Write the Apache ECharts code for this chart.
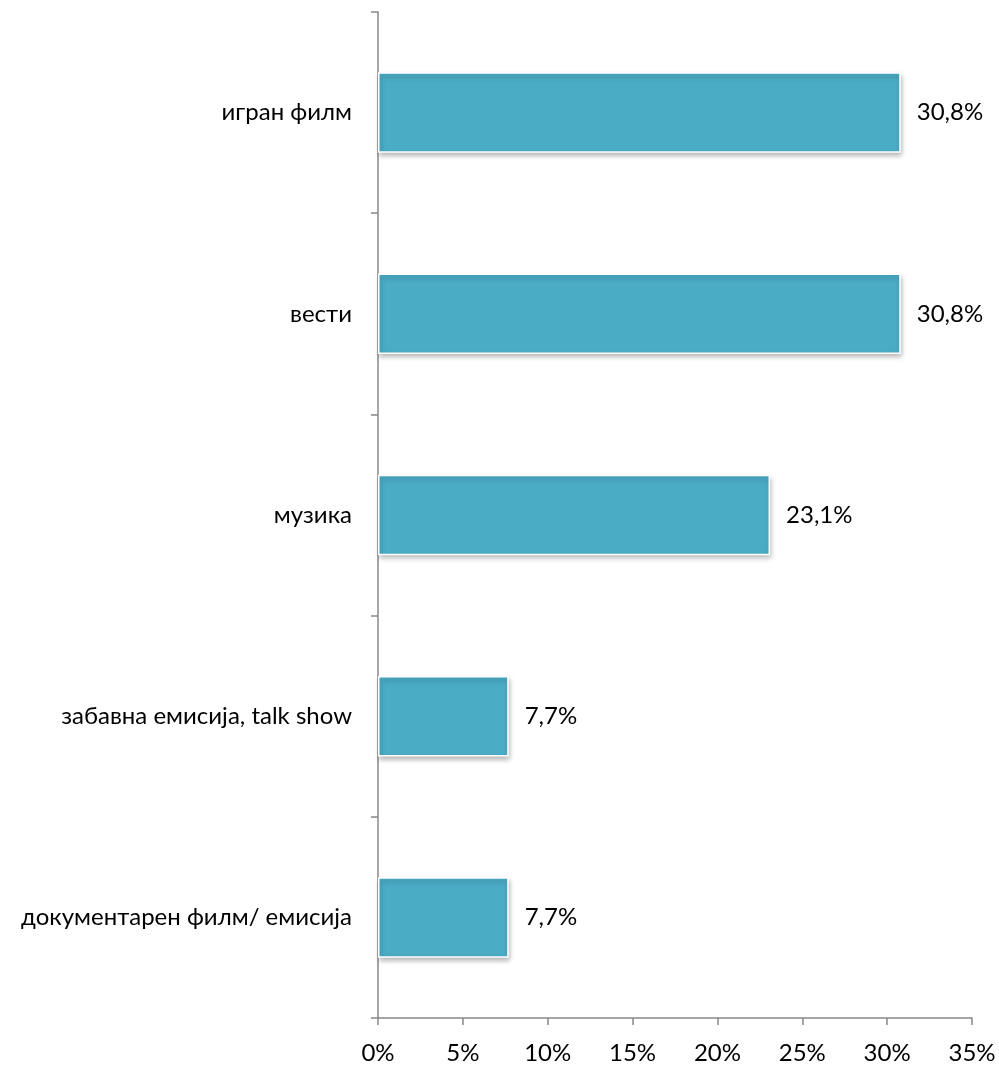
<!DOCTYPE html>
<html><head><meta charset="utf-8">
<script src="https://cdn.jsdelivr.net/npm/echarts@6/dist/echarts.min.js"></script>
<style>html,body{margin:0;padding:0;background:#fff}#c{width:999px;height:1066px}</style>
</head><body><div id="c"></div>
<script>
const categories = ["игран филм", "вести", "музика", "забавна емисија, talk show", "документарен филм/ емисија"];
const values = [30.8, 30.8, 23.1, 7.7, 7.7];
const labels = ["30,8%", "30,8%", "23,1%", "7,7%", "7,7%"];
const FONT = "Lato, 'Open Sans', sans-serif";
const chart = echarts.init(document.getElementById('c'));
chart.setOption({
  animation: false,
  grid: {left: 378, right: 27, top: 12, bottom: 48, containLabel: false},
  xAxis: {
    type: 'value', min: 0, max: 35, interval: 5,
    axisLine: {show: true, lineStyle: {color: '#888', width: 1.5}},
    axisTick: {show: true, length: 7, lineStyle: {color: '#888', width: 1.5}},
    splitLine: {show: false},
    axisLabel: {formatter: v => v + '%', color: '#000', fontSize: 24, fontFamily: FONT, margin: 23}
  },
  yAxis: {
    type: 'category', data: categories, inverse: true,
    axisLine: {show: true, lineStyle: {color: '#888', width: 1.5}},
    axisTick: {show: true, length: 7, lineStyle: {color: '#888', width: 1.5}},
    axisLabel: {color: '#000', fontSize: 24, fontFamily: FONT, margin: 26}
  },
  series: [{
    type: 'bar', data: values, barCategoryGap: '60%',
    itemStyle: {color: '#4BACC6', borderColor: '#fff', borderWidth: 1.5,
      shadowColor: 'rgba(0,0,0,0.3)', shadowBlur: 5, shadowOffsetX: 1, shadowOffsetY: 3},
    label: {show: true, position: 'right', distance: 16, color: '#000', fontSize: 24, fontFamily: FONT,
      formatter: p => labels[p.dataIndex]}
  }]
});
</script></body></html>
